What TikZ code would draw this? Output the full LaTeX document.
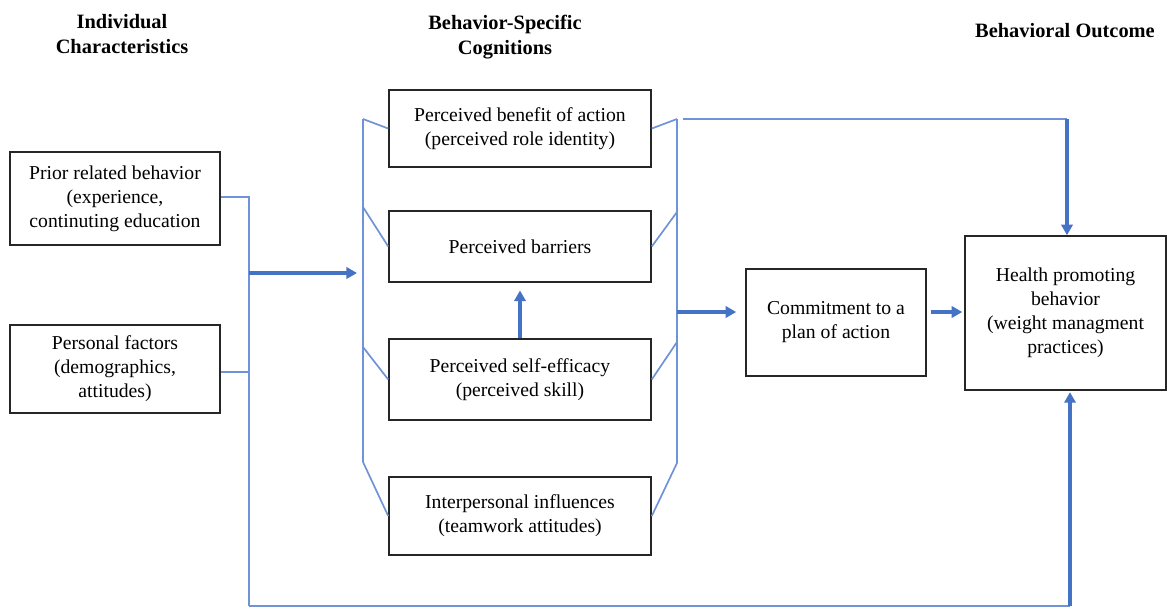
\documentclass[tikz,border=0pt]{standalone}
\usepackage{fontspec}
\setmainfont{Liberation Serif}
\usepackage{tikz}
\usetikzlibrary{arrows.meta, calc}
\definecolor{linkblue}{RGB}{68,114,196}
\definecolor{bracketblue}{RGB}{112,146,216}
\tikzset{
   box/.style={draw=black!85, line width=1.1pt, align=center, inner sep=0pt,
      font=\fontsize{14}{17}\selectfont},
   head/.style={align=center, font=\fontsize{14.5}{18}\selectfont\bfseries},
   bracket/.style={draw=bracketblue, line width=1.2pt},
   flow/.style={draw=linkblue, line width=2.4pt, -{Triangle[length=7.5pt,width=8pt]}},
}

\begin{document}
\begin{tikzpicture}[x=0.025cm, y=-0.025cm]
   \newcommand{\pxu}{0.025cm}
   \useasboundingbox (0,0) rectangle (1167,608);
   % headings
   \node[head] (hind) at (122,34) {Individual\\Characteristics};
   \node[head] (hcog) at (505,37) {Behavior-Specific\\Cognitions};
   \node[head] (hout) at (1065,31) {Behavioral Outcome};
   % individual characteristics
   \node[box, minimum width=210*\pxu, minimum height=93*\pxu] (prior) at (115,198.5)
      {Prior related behavior\\(experience,\\continuting education};
   \node[box, minimum width=210*\pxu, minimum height=88*\pxu] (personal) at (115,369)
      {Personal factors\\(demographics,\\attitudes)};
   % cognitions
   \node[box, minimum width=262*\pxu, minimum height=77*\pxu] (benefit) at (520,128.5)
      {Perceived benefit of action\\(perceived role identity)};
   \node[box, minimum width=262*\pxu, minimum height=71*\pxu] (barriers) at (520,246.5)
      {Perceived barriers};
   \node[box, minimum width=262*\pxu, minimum height=81*\pxu] (efficacy) at (520,379.5)
      {Perceived self-efficacy\\(perceived skill)};
   \node[box, minimum width=262*\pxu, minimum height=78*\pxu] (interp) at (520,516)
      {Interpersonal influences\\(teamwork attitudes)};
   % outcome
   \node[box, minimum width=180*\pxu, minimum height=107*\pxu] (commit) at (836,322.5)
      {Commitment to a\\plan of action};
   \node[box, minimum width=201*\pxu, minimum height=154*\pxu] (health) at (1065.5,313)
      {Health promoting\\behavior\\(weight managment\\practices)};

   % left bracket
   \coordinate (lb1) at (363,119);
   \coordinate (lb2) at (363,207);
   \coordinate (lb3) at (363,347);
   \coordinate (lb4) at (363,462);
   \draw[bracket] (lb1) -- (lb4);
   \draw[bracket] (lb1) -- (benefit.west);
   \draw[bracket] (lb2) -- (barriers.west);
   \draw[bracket] (lb3) -- (efficacy.west);
   \draw[bracket] (lb4) -- (interp.west);
   % right bracket
   \coordinate (rb1) at (677,119);
   \coordinate (rb2) at (677,212);
   \coordinate (rb3) at (677,342);
   \coordinate (rb4) at (677,463);
   \draw[bracket] (rb1) -- (rb4);
   \draw[bracket] (rb1) -- (benefit.east);
   \draw[bracket] (rb2) -- (barriers.east);
   \draw[bracket] (rb3) -- (efficacy.east);
   \draw[bracket] (rb4) -- (interp.east);

   % individual characteristics into cognitions
   \coordinate (ltop) at (249,197);
   \coordinate (lbot) at (249,606);
   \coordinate (ljoin) at (249,273);
   \coordinate (lbin) at (357,273);
   \draw[bracket] (prior.east |- ltop) -- (ltop) -- (lbot);
   \draw[bracket] (personal.east |- 0,372) -- (249,372);
   \draw[flow] (ljoin) -- (lbin);
   \draw[flow, shorten >=5.5pt] (efficacy.north) -- (barriers.south);

   % cognitions into outcome
   \coordinate (rjoin) at (677,312);
   \draw[flow, shorten >=6.4pt] (rjoin) -- (rjoin -| commit.west);
   \draw[flow, shorten <=3pt, shorten >=1.4pt] (commit.east |- rjoin) -- (health.west |- rjoin);
   \coordinate (tstart) at (683,119);
   \coordinate (tcorner) at (1067,119);
   \draw[bracket] (tstart) -- (tcorner);
   \draw[flow] (tcorner) -- (tcorner |- health.north);
   \coordinate (bcorner) at (1070,606);
   \draw[bracket] (lbot) -- (bcorner);
   \draw[flow, shorten >=1pt] (bcorner) -- (bcorner |- health.south);
\end{tikzpicture}
\end{document}
